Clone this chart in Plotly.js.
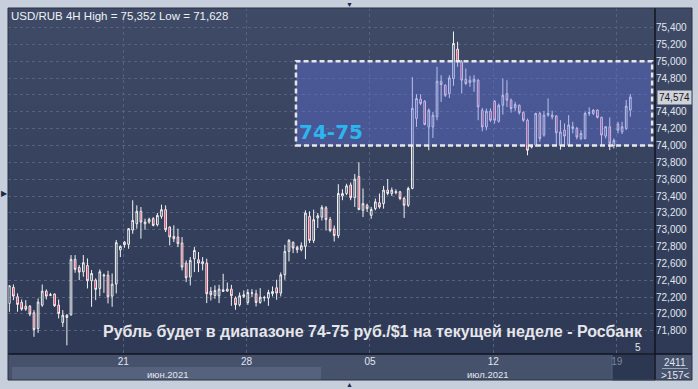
<!DOCTYPE html>
<html>
<head>
<meta charset="utf-8">
<script src="https://cdn.plot.ly/plotly-3.0.1.min.js"></script>
<style>
  html, body { margin: 0; padding: 0; background: #c6cfdb; }
  #chart { width: 698px; height: 389px; }
</style>
</head>
<body>
<div id="chart"></div>
<script>
// ---- data (USD/RUB, 4H candles) ----
const opens = [72.125,72.315,72.204,72.137,72.093,72.093,72.014,71.828,72.105,72.271,72.230,72.236,72.105,71.899,71.986,71.990,72.648,72.552,72.501,72.576,72.394,72.402,72.303,72.450,72.461,72.212,72.354,72.762,72.853,72.826,72.996,73.071,73.218,73.071,73.091,73.131,73.059,73.158,73.238,73.032,72.921,72.913,72.842,72.604,72.438,72.655,72.644,72.596,72.604,72.267,72.220,72.216,72.267,72.271,72.295,72.188,72.109,72.208,72.137,72.245,72.240,72.137,72.190,72.188,72.240,72.311,72.248,72.465,72.743,72.850,72.790,72.762,72.802,73.158,72.873,73.139,73.150,73.260,73.120,73.010,72.930,73.400,73.430,73.530,73.380,73.630,73.230,73.290,73.170,73.250,73.320,73.310,73.470,73.430,73.440,73.450,73.370,73.290,73.490,74.320,74.548,74.525,74.220,74.220,74.339,74.762,74.715,74.616,74.794,75.143,74.992,74.786,74.747,74.754,74.774,74.418,74.220,74.406,74.525,74.287,74.477,74.616,74.537,74.446,74.477,74.390,74.299,73.980,74.004,74.380,74.123,74.360,74.360,74.349,74.000,74.182,74.004,74.200,74.200,74.083,74.083,74.380,74.380,74.420,74.333,74.111,74.222,74.000,74.253,74.162,74.202,74.420];
const highs = [72.343,72.350,72.244,72.172,72.164,72.105,72.046,72.184,72.350,72.291,72.251,72.244,72.172,72.046,71.998,72.699,72.699,72.580,72.699,72.659,72.521,72.422,72.529,72.480,72.513,72.481,72.877,72.814,72.865,73.020,73.349,73.289,73.269,73.131,73.143,73.150,73.198,73.297,73.289,73.040,73.052,73.012,72.913,72.636,72.675,72.794,72.735,72.675,72.656,72.319,72.339,72.346,72.477,72.374,72.346,72.208,72.255,72.279,72.295,72.295,72.287,72.307,72.216,72.287,72.327,72.406,72.493,72.822,72.889,72.861,72.810,72.850,73.230,73.218,73.238,73.198,73.290,73.280,73.150,73.050,73.540,73.480,73.545,73.560,73.660,73.800,73.490,73.310,73.270,73.370,73.430,73.520,73.600,73.500,73.480,73.460,73.390,73.510,74.810,74.608,74.608,74.537,74.438,74.398,74.933,74.834,74.723,74.834,75.352,75.230,75.012,74.913,74.826,74.834,74.786,74.446,74.438,74.438,74.537,74.497,74.794,74.774,74.556,74.517,74.485,74.406,74.319,74.010,74.388,74.400,74.408,74.558,74.412,74.360,74.300,74.261,74.360,74.281,74.222,74.182,74.400,74.451,74.428,74.428,74.341,74.230,74.333,74.083,74.281,74.281,74.539,74.610];
const lows = [72.026,72.164,72.026,72.038,72.038,71.974,71.729,71.776,72.085,72.172,72.212,72.085,71.947,71.847,71.628,71.980,72.489,72.402,72.442,72.303,72.085,72.164,72.212,72.250,72.125,72.085,72.244,72.675,72.786,72.774,72.952,73.012,72.893,73.000,73.071,73.040,73.040,73.131,72.972,72.814,72.853,72.794,72.517,72.378,72.339,72.497,72.497,72.517,72.129,72.160,72.180,72.129,72.267,72.267,72.097,72.050,72.089,72.188,72.109,72.200,72.089,72.121,72.149,72.097,72.208,72.168,72.208,72.406,72.624,72.723,72.723,72.743,72.651,72.842,72.842,73.020,73.110,72.990,72.970,72.860,72.900,73.350,73.410,73.350,73.270,73.230,73.150,73.210,73.130,73.230,73.250,73.250,73.410,73.400,73.420,73.350,73.140,73.270,73.480,74.220,74.477,74.240,73.943,74.089,74.299,74.517,74.576,74.564,74.707,74.933,74.616,74.715,74.695,74.636,74.299,74.168,74.180,74.279,74.259,74.270,74.366,74.457,74.390,74.406,74.366,74.279,73.883,73.965,73.984,74.044,74.103,74.341,74.309,73.992,73.950,73.984,73.984,74.143,74.071,74.063,74.071,74.349,74.360,74.320,74.004,74.083,73.945,73.965,74.143,74.135,74.182,74.341];
const closes = [72.335,72.212,72.113,72.057,72.057,71.998,71.816,72.141,72.271,72.212,72.222,72.097,72.006,71.986,71.958,72.648,72.529,72.497,72.608,72.394,72.481,72.291,72.501,72.460,72.204,72.354,72.846,72.802,72.822,73.012,73.111,73.218,73.091,73.091,73.123,73.051,73.170,73.238,73.000,72.913,72.893,72.834,72.556,72.430,72.636,72.754,72.604,72.620,72.240,72.228,72.279,72.295,72.287,72.295,72.216,72.109,72.216,72.228,72.255,72.250,72.137,72.200,72.195,72.255,72.267,72.248,72.465,72.743,72.873,72.782,72.762,72.810,73.198,72.873,73.119,73.166,73.265,73.120,72.990,72.930,73.430,73.430,73.520,73.380,73.600,73.240,73.310,73.250,73.240,73.330,73.270,73.470,73.430,73.470,73.450,73.370,73.290,73.490,74.440,74.556,74.497,74.248,74.418,74.358,74.762,74.723,74.596,74.802,75.210,74.992,74.774,74.735,74.774,74.786,74.457,74.220,74.406,74.299,74.299,74.477,74.596,74.537,74.438,74.485,74.390,74.299,73.943,74.000,74.380,74.083,74.360,74.380,74.340,74.150,74.160,74.111,74.242,74.220,74.100,74.143,74.380,74.390,74.420,74.333,74.123,74.222,74.024,74.060,74.182,74.222,74.467,74.574];

// week starts (candle index of first bar of each week) and their labels
const weekStartIdx = [28, 58, 88, 118, 148];
const weekLabels = ["21", "28", "05", "12", "19"];
const monthLabels = ["июн.2021", "июл.2021"];
const yTicks = [71.8,72.0,72.2,72.4,72.6,72.8,73.0,73.2,73.4,73.6,73.8,74.0,74.2,74.4,74.6,74.8,75.0,75.2,75.4];
const rangeLow = 74, rangeHigh = 75;
const lastPrice = 74.574;
const headerText = "USD/RUB 4H High = 75,352 Low = 71,628";
const rangeText = "74-75";
const captionText = "Рубль будет в диапазоне 74-75 руб./$1 на текущей неделе - Росбанк";

// ---- geometry helpers (pixel -> paper) ----
const W = 698, H = 389, L = 8, R = 655, T = 8, B = 354;
const px = x => (x - L) / (R - L);
const py = y => (B - y) / (B - T);

const xs = opens.map((_, i) => i);
const fmt = v => v.toFixed(3).replace('.', ',');
// the tick label hidden behind the last-price marker is left blank
const yTickText = yTicks.map(v => Math.abs(v - lastPrice) < 0.1 ? '' : fmt(v));

const trace = {
  type: 'candlestick',
  x: xs, open: opens, high: highs, low: lows, close: closes,
  increasing: { line: { color: '#f2f2f2', width: 1 }, fillcolor: 'rgba(0,0,0,0)' },
  decreasing: { line: { color: '#f2f2f2', width: 1 }, fillcolor: '#e3163f' },
  whiskerwidth: 0,
  hoverinfo: 'skip',
  showlegend: false
};

const grad = "<svg xmlns='http://www.w3.org/2000/svg' width='10' height='100' preserveAspectRatio='none'>" +
  "<defs><linearGradient id='g' x1='0' y1='0' x2='0' y2='1'>" +
  "<stop offset='0' stop-color='#3f4b66'/><stop offset='1' stop-color='#2d3955'/></linearGradient></defs>" +
  "<rect width='10' height='100' fill='url(#g)'/></svg>";

const tickText = weekLabels.map((t, i) => i === weekLabels.length - 1 ? '<span style="color:#7f889c">' + t + '</span>' : t);

const layout = {
  width: W, height: H,
  margin: { l: L, r: W - R, t: T, b: H - B, pad: 0 },
  paper_bgcolor: '#c6cfdb',
  plot_bgcolor: 'rgba(0,0,0,0)',
  separators: ', ',
  font: { family: 'Liberation Sans, Arial, sans-serif', color: '#e1e6ef', size: 10 },
  showlegend: false,
  boxgap: 0.42,
  images: [{
    source: 'data:image/svg+xml;utf8,' + encodeURIComponent(grad),
    xref: 'paper', yref: 'paper', x: 0, y: 1, sizex: px(692), sizey: 1,
    xanchor: 'left', yanchor: 'top', sizing: 'stretch', layer: 'below'
  }],
  xaxis: {
    range: [-0.32, 157.0],
    rangeslider: { visible: false },
    tickmode: 'array', tickvals: weekStartIdx.map(i => i - 0.3), ticktext: tickText,
    showgrid: true, gridcolor: '#56627d', griddash: '3px,3px', gridwidth: 1,
    zeroline: false, showline: false, ticks: '',
    tickfont: { size: 10, color: '#e1e6ef' }, fixedrange: true
  },
  yaxis: {
    side: 'right',
    range: [71.525, 75.631],
    tickmode: 'array', tickvals: yTicks, ticktext: yTickText,
    showgrid: true, gridcolor: '#56627d', griddash: '3px,3px', gridwidth: 1,
    zeroline: false, showline: false, ticks: '',
    tickfont: { size: 10, color: '#e1e6ef' }, fixedrange: true
  },
  shapes: [
    // bottom date strip
    { type: 'rect', xref: 'paper', yref: 'paper', x0: 0, x1: px(692), y0: py(380), y1: 0, fillcolor: '#46526c', line: { width: 0 }, layer: 'below' },
    { type: 'rect', xref: 'paper', yref: 'paper', x0: px(12), x1: px(321), y0: py(380), y1: py(367), fillcolor: '#56627d', line: { width: 0 }, layer: 'below' },
    { type: 'rect', xref: 'paper', yref: 'paper', x0: px(612), x1: px(655), y0: py(380), y1: 0, fillcolor: '#2c3752', line: { color: '#55617a', width: 1 }, layer: 'below' },
    // separators
    { type: 'line', xref: 'paper', yref: 'paper', x0: 0, x1: px(692), y0: 0, y1: 0, line: { color: '#10151f', width: 1.5 } },
    { type: 'line', xref: 'paper', yref: 'paper', x0: 1, x1: 1, y0: py(380), y1: 1, line: { color: '#10151f', width: 1.5 } },
    { type: 'rect', xref: 'paper', yref: 'paper', x0: 0, x1: px(692), y0: py(380), y1: 1, line: { color: '#2a3140', width: 1 } },
    // 2411 underline
    { type: 'line', xref: 'paper', yref: 'paper', x0: px(662), x1: px(688), y0: py(368.5), y1: py(368.5), line: { color: '#9aa4b8', width: 1 } },
    // target range box
    { type: 'rect', xref: 'x', yref: 'y', x0: 69.7, x1: 156.3, y0: rangeLow, y1: rangeHigh,
      fillcolor: 'rgba(98,114,228,0.40)', line: { color: 'rgba(238,238,238,0.95)', width: 2.5, dash: '5px,3px' }, layer: 'above' }
  ],
  annotations: [
    { xref: 'paper', yref: 'paper', x: px(9), y: py(15.5), xanchor: 'left', yanchor: 'middle', showarrow: false,
      text: headerText, font: { size: 11.5, color: '#eef1f6' } },
    { xref: 'paper', yref: 'paper', x: px(297), y: py(132), xanchor: 'left', yanchor: 'middle', showarrow: false,
      text: '<b>' + rangeText + '</b>', font: { family: 'DejaVu Sans, sans-serif', size: 20, color: '#2bb6f0' } },
    { xref: 'paper', yref: 'paper', x: px(373.5), y: py(331), xanchor: 'center', yanchor: 'middle', showarrow: false,
      text: '<b>' + captionText + '</b>', font: { size: 16, color: '#e6e6ea' } },
    { xref: 'paper', yref: 'y', x: px(657), y: lastPrice, xanchor: 'left', yanchor: 'middle', showarrow: false,
      text: fmt(lastPrice), bgcolor: '#cfd3da', borderpad: 1, font: { size: 10, color: '#1a1a1a' } },
    { xref: 'paper', yref: 'paper', x: px(167), y: py(374), xanchor: 'center', yanchor: 'middle', showarrow: false,
      text: monthLabels[0], font: { size: 9.5, color: '#e1e6ef' } },
    { xref: 'paper', yref: 'paper', x: px(488), y: py(374), xanchor: 'center', yanchor: 'middle', showarrow: false,
      text: monthLabels[1], font: { size: 9.5, color: '#e1e6ef' } },
    { xref: 'paper', yref: 'paper', x: px(638), y: py(347), xanchor: 'center', yanchor: 'middle', showarrow: false,
      text: '5', font: { size: 10, color: '#e1e6ef' } },
    { xref: 'paper', yref: 'paper', x: px(675), y: py(362), xanchor: 'center', yanchor: 'middle', showarrow: false,
      text: '2411', font: { size: 10, color: '#e1e6ef' } },
    { xref: 'paper', yref: 'paper', x: px(675), y: py(375), xanchor: 'center', yanchor: 'middle', showarrow: false,
      text: '&gt;157&lt;', font: { size: 10, color: '#e1e6ef' } },
    { xref: 'paper', yref: 'paper', x: px(4), y: py(193), xanchor: 'center', yanchor: 'middle', showarrow: false,
      text: '▶', font: { size: 8, color: '#1d2a45' } },
    { xref: 'paper', yref: 'paper', x: px(349), y: py(4.5), xanchor: 'center', yanchor: 'middle', showarrow: false,
      text: '▼', font: { size: 7, color: '#1d2a45' } },
    { xref: 'paper', yref: 'paper', x: px(349), y: py(384.5), xanchor: 'center', yanchor: 'middle', showarrow: false,
      text: '▲', font: { size: 7, color: '#1d2a45' } }
  ]
};

Plotly.newPlot('chart', [trace], layout, { staticPlot: true, displayModeBar: false });
</script>
</body>
</html>
